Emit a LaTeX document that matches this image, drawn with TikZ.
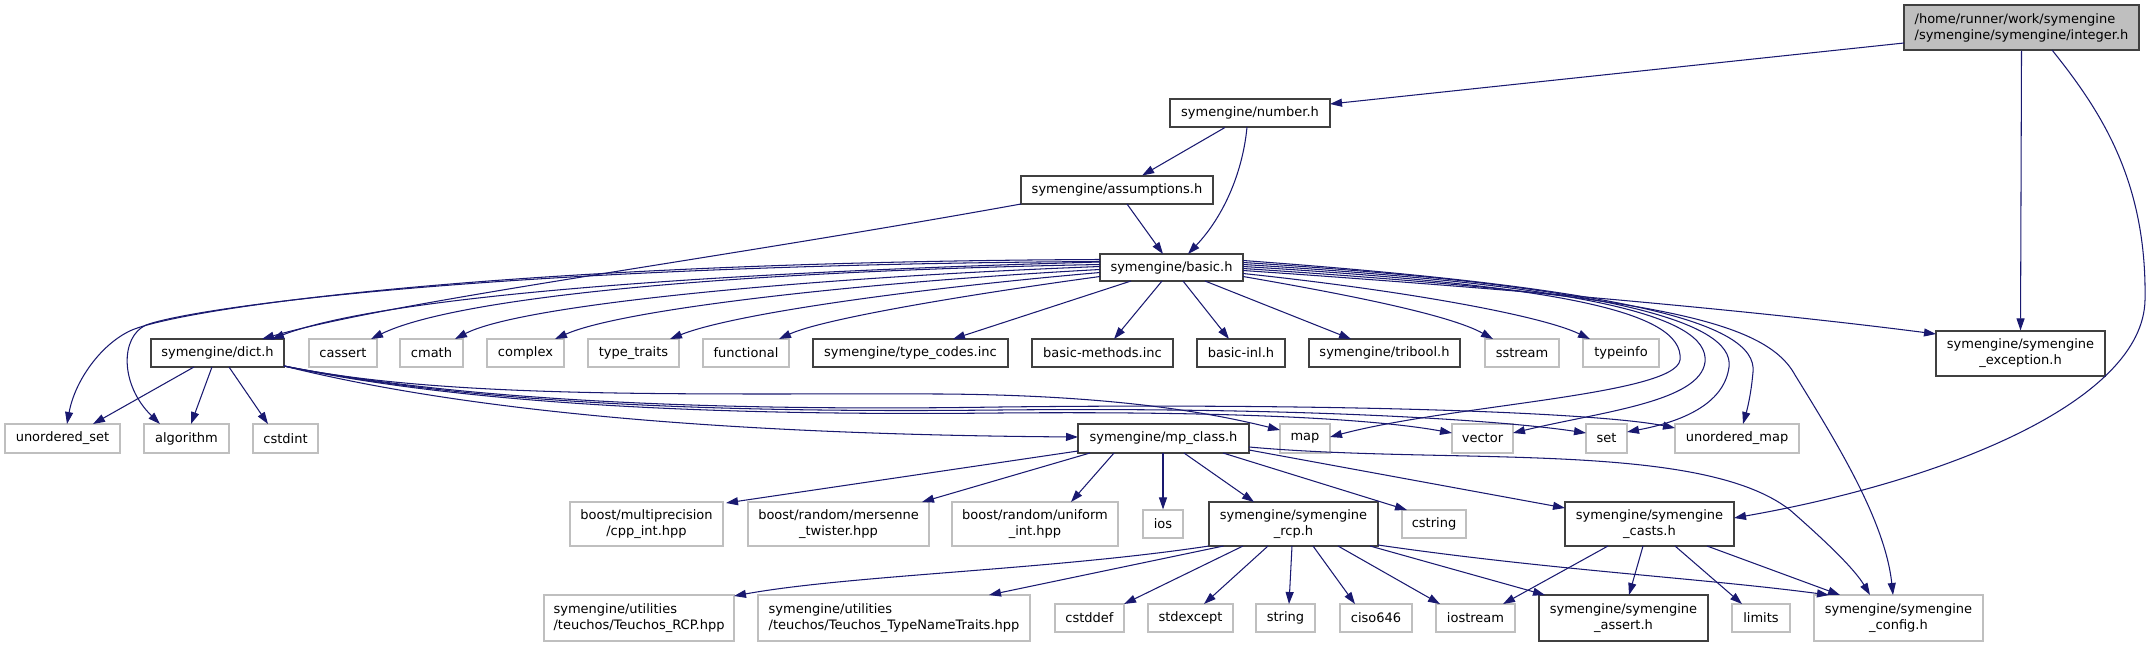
\documentclass[tikz,border=0pt]{standalone}
\usepackage{fontspec}
\setmainfont{DejaVu Sans}
\usetikzlibrary{arrows.meta,calc}
\definecolor{edgeblue}{HTML}{191970}
\definecolor{greyseventyfive}{HTML}{BFBFBF}
\definecolor{darkborder}{HTML}{404040}
\tikzset{
  hbox/.style={draw=darkborder, line width=1.1pt, rectangle, inner sep=0pt, font=\fontsize{13}{16}\selectfont, text=black},
  sysbox/.style={draw=greyseventyfive, line width=1.1pt, rectangle, inner sep=0pt, font=\fontsize{13}{16}\selectfont, text=black},
  edge/.style={draw=edgeblue, line width=1.05pt, -{Triangle[length=12pt,width=8pt]}, fill=none},
}
\begin{document}
\begin{tikzpicture}[x=1pt,y=-1pt]
\useasboundingbox (0,0) rectangle (2151,647);
% row 0
\node[hbox, fill=greyseventyfive, minimum width=235, minimum height=45, align=left] (integer) at (2021.5,27.5) {/home/runner/work/symengine\\/symengine/symengine/integer.h};
\node[hbox, minimum width=160, minimum height=28] (number) at (1250,113) {symengine/number.h};
\node[hbox, minimum width=192, minimum height=28] (assumptions) at (1117,190) {symengine/assumptions.h};
\node[hbox, minimum width=143, minimum height=27] (basic) at (1171.5,267.5) {symengine/basic.h};
% row 2
\node[hbox, minimum width=133, minimum height=28] (dict) at (217.5,353) {symengine/dict.h};
\node[sysbox, minimum width=68, minimum height=28] (cassert) at (343,353) {cassert};
\node[sysbox, minimum width=63, minimum height=28] (cmath) at (431.5,353) {cmath};
\node[sysbox, minimum width=77, minimum height=28] (complex) at (525.5,353) {complex};
\node[sysbox, minimum width=91, minimum height=28] (typetraits) at (633.5,353) {type\_traits};
\node[sysbox, minimum width=86, minimum height=28] (functional) at (746,353) {functional};
\node[hbox, minimum width=195, minimum height=28] (typecodes) at (910.5,353) {symengine/type\_codes.inc};
\node[hbox, minimum width=141, minimum height=28] (basicmethods) at (1102.5,353) {basic-methods.inc};
\node[hbox, minimum width=88, minimum height=28] (basicinl) at (1241,353) {basic-inl.h};
\node[hbox, minimum width=151, minimum height=28] (tribool) at (1384.5,353) {symengine/tribool.h};
\node[sysbox, minimum width=74, minimum height=28] (sstream) at (1522,353) {sstream};
\node[sysbox, minimum width=76, minimum height=28] (typeinfo) at (1621,353) {typeinfo};
\node[hbox, minimum width=169, minimum height=45, align=center] (exception) at (2020.5,353.5) {symengine/symengine\\\_exception.h};
% row 3
\node[sysbox, minimum width=115, minimum height=29] (unorderedset) at (62.5,438.5) {unordered\_set};
\node[sysbox, minimum width=85, minimum height=29] (algorithm) at (186.5,438.5) {algorithm};
\node[sysbox, minimum width=65, minimum height=29] (cstdint) at (285.5,438.5) {cstdint};
\node[hbox, minimum width=171, minimum height=29] (mpclass) at (1163.5,438.5) {symengine/mp\_class.h};
\node[sysbox, minimum width=50, minimum height=29] (map) at (1305,438.5) {map};
\node[sysbox, minimum width=61, minimum height=29] (vector) at (1482.5,438.5) {vector};
\node[sysbox, minimum width=41, minimum height=29] (set) at (1606.5,438.5) {set};
\node[sysbox, minimum width=124, minimum height=29] (unorderedmap) at (1737,438.5) {unordered\_map};
% row 4
\node[sysbox, minimum width=153, minimum height=44, align=center] (cppint) at (646.5,524) {boost/multiprecision\\/cpp\_int.hpp};
\node[sysbox, minimum width=181, minimum height=44, align=center] (mersenne) at (838.5,524) {boost/random/mersenne\\\_twister.hpp};
\node[sysbox, minimum width=166, minimum height=44, align=center] (uniformint) at (1035,524) {boost/random/uniform\\\_int.hpp};
\node[sysbox, minimum width=40, minimum height=28] (ios) at (1163,524) {ios};
\node[hbox, minimum width=169, minimum height=44, align=center] (rcp) at (1293.5,524) {symengine/symengine\\\_rcp.h};
\node[sysbox, minimum width=64, minimum height=28] (cstring) at (1434,524) {cstring};
\node[hbox, minimum width=169, minimum height=44, align=center] (casts) at (1649.5,524) {symengine/symengine\\\_casts.h};
% row 5
\node[sysbox, minimum width=190, minimum height=46, align=left] (teuchosrcp) at (639,618) {symengine/utilities\\/teuchos/Teuchos\_RCP.hpp};
\node[sysbox, minimum width=272, minimum height=46, align=left] (typename) at (894,618) {symengine/utilities\\/teuchos/Teuchos\_TypeNameTraits.hpp};
\node[sysbox, minimum width=69, minimum height=28] (cstddef) at (1089.5,618) {cstddef};
\node[sysbox, minimum width=85, minimum height=28] (stdexcept) at (1190.5,618) {stdexcept};
\node[sysbox, minimum width=59, minimum height=28] (string) at (1285.5,618) {string};
\node[sysbox, minimum width=72, minimum height=28] (ciso) at (1376,618) {ciso646};
\node[sysbox, minimum width=79, minimum height=28] (iostream) at (1475.5,618) {iostream};
\node[hbox, minimum width=169, minimum height=46, align=center] (assert) at (1623.5,618) {symengine/symengine\\\_assert.h};
\node[sysbox, minimum width=58, minimum height=28] (limits) at (1761,618) {limits};
\node[sysbox, minimum width=169, minimum height=46, align=center] (config) at (1898.5,618) {symengine/symengine\\\_config.h};

% integer.h
\path[edge] ($(integer)+(-117.5,15.5)$) -- ($(number)+(80,-9)$);
\path[edge] (integer.south) -- (exception.north);
\path[edge] ($(integer)+(30.5,22.5)$) .. controls (2100,110) and (2147,180) .. (2145,300) .. controls (2143,400) and (1950,480) .. ($(casts)+(84.5,-6)$);
% number.h
\path[edge] (number) -- (assumptions);
\path[edge] ($(number)+(-3,14)$) .. controls (1243,170) and (1225,215) .. ($(basic)+(16.5,-13.5)$);
% assumptions.h
\path[edge] ($(assumptions)+(10,14)$) -- ($(basic)+(-8.5,-13.5)$);
\path[edge] ($(assumptions)+(-96,14)$) .. controls (700,262) and (400,300) .. ($(dict)+(44.5,-14)$);
% basic.h
\path[edge] ($(basic)+(-71.5,-5.5)$) .. controls (800,270) and (400,290) .. ($(dict)+(54.5,-14)$);
\path[edge] ($(basic)+(-71.5,-8)$) .. controls (500,262) and (185,308) .. (132,330) .. controls (102,343) and (75,380) .. ($(unorderedset)+(4.5,-14.5)$);
\path[edge] ($(basic)+(-71.5,-6)$) .. controls (500,265) and (195,307) .. (146,325) .. controls (120,337) and (120,385) .. ($(algorithm)+(-26.5,-14.5)$);
\path[edge] ($(basic)+(-71.5,-3)$) .. controls (700,272) and (450,300) .. ($(cassert)+(28,-14)$);
\path[edge] ($(basic)+(-71.5,-1)$) .. controls (800,278) and (520,305) .. ($(cmath)+(23.5,-14)$);
\path[edge] ($(basic)+(-71.5,2)$) .. controls (850,283) and (620,310) .. ($(complex)+(29.5,-14)$);
\path[edge] ($(basic)+(-71.5,5)$) .. controls (900,290) and (730,315) .. ($(typetraits)+(36.5,-14)$);
\path[edge] ($(basic)+(-71.5,9)$) .. controls (950,297) and (820,320) .. ($(functional)+(33,-14)$);
\path[edge] ($(basic)+(-40.5,13.5)$) -- ($(typecodes)+(42.5,-14)$);
\path[edge] ($(basic)+(-9.5,13.5)$) -- ($(basicmethods)+(11.5,-14)$);
\path[edge] ($(basic)+(11.5,13.5)$) -- ($(basicinl)+(-12,-14)$);
\path[edge] ($(basic)+(33.5,13.5)$) -- ($(tribool)+(-33.5,-14)$);
\path[edge] ($(basic)+(71.5,9)$) .. controls (1350,295) and (1450,315) .. ($(sstream)+(-29,-14)$);
\path[edge] ($(basic)+(71.5,6)$) .. controls (1400,290) and (1540,315) .. ($(typeinfo)+(-31,-14)$);
\path[edge] ($(basic)+(71.5,3)$) .. controls (1500,288) and (1750,310) .. ($(exception)+(-84.5,-19.5)$);
\path[edge] ($(basic)+(71.5,-1)$) .. controls (1550,285) and (1685,310) .. (1680,360) .. controls (1675,395) and (1450,405) .. ($(map)+(25,-1.5)$);
\path[edge] ($(basic)+(71.5,-3)$) .. controls (1580,285) and (1710,315) .. (1705,362) .. controls (1700,402) and (1600,412) .. ($(vector)+(30.5,-5.5)$);
\path[edge] ($(basic)+(71.5,-5)$) .. controls (1600,285) and (1735,320) .. (1729,367) .. controls (1724,405) and (1680,422) .. ($(set)+(20.5,-6.5)$);
\path[edge] ($(basic)+(71.5,-7)$) .. controls (1620,288) and (1758,322) .. (1753,372) .. controls (1751,395) and (1747,410) .. ($(unorderedmap)+(6,-14.5)$);
\path[edge] ($(basic)+(71.5,1)$) .. controls (1650,295) and (1765,320) .. (1795,375) .. controls (1835,440) and (1885,520) .. ($(config)+(-5.5,-23)$);
% dict.h
\path[edge] ($(dict)+(-23.5,14)$) -- ($(unorderedset)+(30.5,-14.5)$);
\path[edge] ($(dict)+(-5.5,14)$) -- ($(algorithm)+(4.5,-14.5)$);
\path[edge] ($(dict)+(11.5,14)$) -- ($(cstdint)+(-17.5,-14.5)$);
\path[edge] ($(dict)+(66.5,13)$) .. controls (500,420) and (800,435) .. ($(mpclass)+(-85.5,-1.5)$);
\path[edge] ($(dict)+(66.5,13)$) .. controls (450,400) and (700,393) .. (940,394) .. controls (1100,395) and (1200,410) .. ($(map)+(-25,-8.5)$);
\path[edge] ($(dict)+(66.5,13)$) .. controls (500,412) and (800,415) .. (1000,413) .. controls (1250,411) and (1380,420) .. ($(vector)+(-30.5,-5.5)$);
\path[edge] ($(dict)+(66.5,13)$) .. controls (500,410) and (800,412) .. (1000,410) .. controls (1300,407) and (1500,420) .. ($(set)+(-20.5,-5.5)$);
\path[edge] ($(dict)+(66.5,13)$) .. controls (500,408) and (800,410) .. (1000,407) .. controls (1350,403) and (1600,413) .. ($(unorderedmap)+(-62,-10.5)$);
% mp_class.h
\path[edge] ($(mpclass)+(-85.5,12.5)$) -- ($(cppint)+(79.5,-21)$);
\path[edge] ($(mpclass)+(-73.5,14.5)$) -- ($(mersenne)+(83.5,-22)$);
\path[edge] ($(mpclass)+(-49.5,14.5)$) -- ($(uniformint)+(36,-22)$);
\path[edge] ($(mpclass)+(-0.5,14.5)$) -- (ios.north);
\path[edge] ($(mpclass)+(20.5,14.5)$) -- ($(rcp)+(-39.5,-22)$);
\path[edge] ($(mpclass)+(59.5,14.5)$) -- ($(cstring)+(-27,-14)$);
\path[edge] ($(mpclass)+(85.5,11.5)$) -- ($(casts)+(-84.5,-16)$);
\path[edge] ($(mpclass)+(85.5,8.5)$) .. controls (1450,465) and (1700,440) .. (1790,510) .. controls (1830,545) and (1855,570) .. ($(config)+(-28.5,-23)$);
% rcp.h
\path[edge] ($(rcp)+(-84.5,22)$) .. controls (1050,570) and (850,575) .. ($(teuchosrcp)+(95,-22)$);
\path[edge] ($(rcp)+(-70,22)$) -- ($(typename)+(95,-23)$);
\path[edge] ($(rcp)+(-50.5,22)$) -- ($(cstddef)+(34.5,-14)$);
\path[edge] ($(rcp)+(-25.5,22)$) -- ($(stdexcept)+(13.5,-14)$);
\path[edge] ($(rcp)+(-1.5,22)$) -- ($(string)+(3.5,-14)$);
\path[edge] ($(rcp)+(19.5,22)$) -- ($(ciso)+(-21,-14)$);
\path[edge] ($(rcp)+(44.5,22)$) -- ($(iostream)+(-35.5,-14)$);
\path[edge] ($(rcp)+(76.5,22)$) -- ($(assert)+(-78.5,-23)$);
\path[edge] ($(rcp)+(84.5,21)$) .. controls (1550,570) and (1700,578) .. ($(config)+(-69.5,-23)$);
% casts.h
\path[edge] ($(casts)+(-41.5,22)$) -- ($(iostream)+(27.5,-14)$);
\path[edge] ($(casts)+(-6.5,22)$) -- ($(assert)+(5.5,-23)$);
\path[edge] ($(casts)+(25.5,22)$) -- ($(limits)+(-19,-14)$);
\path[edge] ($(casts)+(57.5,22)$) -- ($(config)+(-58.5,-23)$);
\end{tikzpicture}
\end{document}
